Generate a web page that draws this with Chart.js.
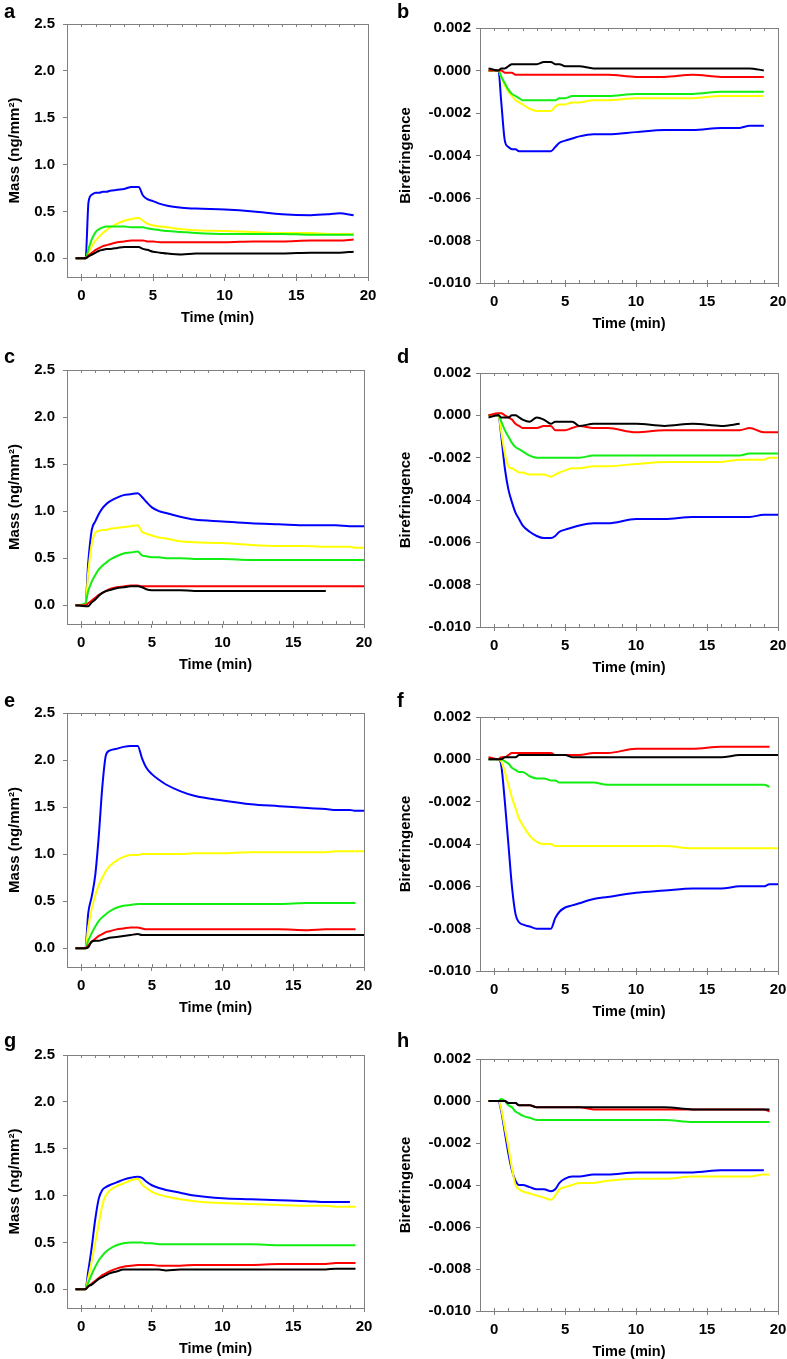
<!DOCTYPE html>
<html>
<head>
<meta charset="utf-8">
<script src="https://cdn.jsdelivr.net/npm/chart.js@4.4.1/dist/chart.umd.min.js"></script>
<style>
  html, body { margin: 0; padding: 0; background: #fff; }
  #page { position: relative; width: 787px; height: 1359px; overflow: hidden; }
  #page canvas { position: absolute; }
  .lbl { position: absolute; font: bold 20px "Liberation Sans", Arial, sans-serif; line-height: 20px; color: #000; }
</style>
</head>
<body>
<div id="page"></div>
<script>
/* data: shared time grid (min) and one array per curve */
const time = [-0.4, 0.3, 0.5, 0.75, 1, 1.25, 1.5, 1.75, 2, 2.5, 3, 3.5, 4, 4.3, 4.6, 5, 5.5, 6, 7, 8, 10, 12, 14, 16, 17.3, 18, 19, 19.4, 20];

const timeTicks = [0, 5, 10, 15, 20];
const massTicks = [0, 0.5, 1, 1.5, 2, 2.5];
const bireTicks = [0.002, 0, -0.002, -0.004, -0.006, -0.008, -0.01];

// a - mass
const aBlack  = [0, 0, 0.02, 0.04, 0.06, 0.08, 0.09, 0.10, 0.10, 0.11, 0.12, 0.12, 0.12, 0.10, 0.09, 0.07, 0.06, 0.05, 0.04, 0.05, 0.05, 0.05, 0.05, 0.06, 0.06, 0.06, 0.07, null, null];
const aRed    = [0, 0, 0.03, 0.06, 0.09, 0.11, 0.13, 0.14, 0.15, 0.17, 0.18, 0.19, 0.19, 0.19, 0.18, 0.18, 0.17, 0.17, 0.17, 0.17, 0.17, 0.18, 0.18, 0.19, 0.19, 0.19, 0.20, null, null];
const aGreen  = [0, 0, 0.10, 0.21, 0.28, 0.31, 0.33, 0.34, 0.34, 0.34, 0.34, 0.33, 0.33, 0.33, 0.32, 0.31, 0.30, 0.29, 0.28, 0.27, 0.26, 0.26, 0.26, 0.25, 0.25, 0.25, 0.25, null, null];
const aYellow = [0, 0, 0.06, 0.13, 0.19, 0.23, 0.27, 0.30, 0.33, 0.37, 0.40, 0.42, 0.43, 0.40, 0.37, 0.35, 0.34, 0.33, 0.31, 0.30, 0.29, 0.28, 0.27, 0.27, 0.26, 0.26, 0.26, null, null];
const aBlue   = [0, 0, 0.60, 0.68, 0.70, 0.70, 0.71, 0.71, 0.72, 0.73, 0.74, 0.76, 0.76, 0.67, 0.63, 0.61, 0.58, 0.56, 0.54, 0.53, 0.52, 0.50, 0.47, 0.46, 0.47, 0.48, 0.46, null, null];

// b - birefringence
const bBlack  = [0.0001, 0, 0.0001, 0.0001, 0.0002, 0.0003, 0.0003, 0.0003, 0.0003, 0.0003, 0.0003, 0.0004, 0.0004, 0.0003, 0.0003, 0.0002, 0.0002, 0.0002, 0.0001, 0.0001, 0.0001, 0.0001, 0.0001, 0.0001, 0.0001, 0.0001, 0.0000, null, null];
const bRed    = [0, 0, 0, -0.0001, -0.0001, -0.0001, -0.0002, -0.0002, -0.0002, -0.0002, -0.0002, -0.0002, -0.0002, -0.0002, -0.0002, -0.0002, -0.0002, -0.0002, -0.0002, -0.0002, -0.0003, -0.0003, -0.0002, -0.0003, -0.0003, -0.0003, -0.0003, null, null];
const bGreen  = [0, 0, -0.0003, -0.0006, -0.0009, -0.0011, -0.0012, -0.0013, -0.0014, -0.0014, -0.0014, -0.0014, -0.0014, -0.0014, -0.0013, -0.0013, -0.0012, -0.0012, -0.0012, -0.0012, -0.0011, -0.0011, -0.0011, -0.0010, -0.0010, -0.0010, -0.0010, null, null];
const bYellow = [0, 0, -0.0003, -0.0007, -0.0010, -0.0012, -0.0014, -0.0015, -0.0016, -0.0018, -0.0019, -0.0019, -0.0019, -0.0017, -0.0016, -0.0016, -0.0015, -0.0015, -0.0014, -0.0014, -0.0013, -0.0013, -0.0013, -0.0012, -0.0012, -0.0012, -0.0012, null, null];
const bBlue   = [0, 0, -0.0015, -0.0033, -0.0036, -0.0037, -0.0037, -0.0038, -0.0038, -0.0038, -0.0038, -0.0038, -0.0038, -0.0036, -0.0034, -0.0033, -0.0032, -0.0031, -0.0030, -0.0030, -0.0029, -0.0028, -0.0028, -0.0027, -0.0027, -0.0026, -0.0026, null, null];

// c - mass
const cBlack  = [0, -0.01, -0.01, 0.03, 0.06, 0.10, 0.13, 0.15, 0.16, 0.18, 0.19, 0.20, 0.20, 0.19, 0.17, 0.16, 0.16, 0.16, 0.16, 0.15, 0.15, 0.15, 0.15, 0.15, 0.15, null, null, null, null];
const cRed    = [0, 0, 0.02, 0.05, 0.08, 0.11, 0.13, 0.15, 0.17, 0.19, 0.20, 0.21, 0.21, 0.20, 0.20, 0.20, 0.20, 0.20, 0.20, 0.20, 0.20, 0.20, 0.20, 0.20, 0.20, 0.20, 0.20, 0.20, 0.20];
const cGreen  = [0, 0.02, 0.15, 0.25, 0.32, 0.38, 0.42, 0.45, 0.48, 0.52, 0.55, 0.56, 0.57, 0.53, 0.52, 0.51, 0.51, 0.50, 0.50, 0.49, 0.49, 0.48, 0.48, 0.48, 0.48, 0.48, 0.48, 0.48, 0.48];
const cYellow = [0, 0, 0.35, 0.65, 0.77, 0.79, 0.80, 0.80, 0.81, 0.82, 0.83, 0.84, 0.85, 0.78, 0.76, 0.74, 0.72, 0.71, 0.68, 0.67, 0.66, 0.64, 0.63, 0.63, 0.62, 0.62, 0.62, 0.61, 0.61];
const cBlue   = [0, 0, 0.45, 0.80, 0.89, 0.97, 1.03, 1.07, 1.10, 1.14, 1.17, 1.18, 1.19, 1.15, 1.10, 1.04, 1.00, 0.98, 0.94, 0.91, 0.89, 0.87, 0.86, 0.85, 0.85, 0.85, 0.84, 0.84, 0.84];

// d - birefringence
const dBlack  = [-0.0001, 0, -0.0001, -0.0001, -0.0001, 0.0000, 0.0000, -0.0001, -0.0002, -0.0003, -0.0001, -0.0002, -0.0004, -0.0003, -0.0003, -0.0003, -0.0003, -0.0005, -0.0004, -0.0004, -0.0004, -0.0005, -0.0004, -0.0005, -0.0004, null, null, null, null];
const dRed    = [0, 0.0001, 0.0001, 0.0000, -0.0001, -0.0002, -0.0004, -0.0005, -0.0006, -0.0006, -0.0006, -0.0005, -0.0005, -0.0007, -0.0007, -0.0007, -0.0006, -0.0005, -0.0006, -0.0006, -0.0008, -0.0007, -0.0007, -0.0007, -0.0007, -0.0006, -0.0008, -0.0008, -0.0008];
const dGreen  = [0, 0, -0.0003, -0.0007, -0.0010, -0.0013, -0.0015, -0.0016, -0.0017, -0.0019, -0.0020, -0.0020, -0.0020, -0.0020, -0.0020, -0.0020, -0.0020, -0.0020, -0.0019, -0.0019, -0.0019, -0.0019, -0.0019, -0.0019, -0.0019, -0.0018, -0.0018, -0.0018, -0.0018];
const dYellow = [0, 0, -0.0008, -0.0018, -0.0024, -0.0025, -0.0026, -0.0027, -0.0027, -0.0028, -0.0028, -0.0028, -0.0029, -0.0028, -0.0027, -0.0026, -0.0025, -0.0025, -0.0024, -0.0024, -0.0023, -0.0022, -0.0022, -0.0022, -0.0021, -0.0021, -0.0021, -0.0020, -0.0020];
const dBlue   = [0, 0, -0.0010, -0.0025, -0.0035, -0.0041, -0.0046, -0.0049, -0.0052, -0.0055, -0.0057, -0.0058, -0.0058, -0.0057, -0.0055, -0.0054, -0.0053, -0.0052, -0.0051, -0.0051, -0.0049, -0.0049, -0.0048, -0.0048, -0.0048, -0.0048, -0.0047, -0.0047, -0.0047];

// e - mass
const eBlack  = [0, 0, 0.01, 0.07, 0.08, 0.08, 0.09, 0.10, 0.11, 0.12, 0.13, 0.14, 0.15, 0.14, 0.14, 0.14, 0.14, 0.14, 0.14, 0.14, 0.14, 0.14, 0.14, 0.14, 0.14, 0.14, 0.14, 0.14, 0.14];
const eRed    = [0, 0, 0.03, 0.07, 0.10, 0.13, 0.15, 0.17, 0.18, 0.20, 0.21, 0.22, 0.22, 0.21, 0.20, 0.20, 0.20, 0.20, 0.20, 0.20, 0.20, 0.20, 0.20, 0.19, 0.20, 0.20, 0.20, 0.20, null];
const eGreen  = [0, 0, 0.08, 0.16, 0.23, 0.29, 0.33, 0.36, 0.39, 0.43, 0.45, 0.46, 0.47, 0.47, 0.47, 0.47, 0.47, 0.47, 0.47, 0.47, 0.47, 0.47, 0.47, 0.48, 0.48, 0.48, 0.48, 0.48, null];
const eYellow = [0, 0, 0.22, 0.42, 0.56, 0.67, 0.75, 0.82, 0.87, 0.93, 0.97, 0.99, 0.99, 1.00, 1.00, 1.00, 1.00, 1.00, 1.00, 1.01, 1.01, 1.02, 1.02, 1.02, 1.02, 1.03, 1.03, 1.03, 1.03];
const eBlue   = [0, 0, 0.37, 0.55, 0.78, 1.20, 1.72, 2.05, 2.10, 2.12, 2.14, 2.15, 2.15, 2.02, 1.92, 1.85, 1.79, 1.74, 1.67, 1.62, 1.57, 1.53, 1.51, 1.49, 1.48, 1.47, 1.47, 1.46, 1.46];

// f - birefringence
const fBlack  = [0, 0, 0, 0.0001, 0.0001, 0.0001, 0.0001, 0.0002, 0.0002, 0.0002, 0.0002, 0.0002, 0.0002, 0.0002, 0.0002, 0.0002, 0.0001, 0.0001, 0.0001, 0.0001, 0.0001, 0.0001, 0.0001, 0.0001, 0.0002, 0.0002, 0.0002, 0.0002, 0.0002];
const fRed    = [0.0001, 0, 0.0001, 0.0001, 0.0002, 0.0003, 0.0003, 0.0003, 0.0003, 0.0003, 0.0003, 0.0003, 0.0003, 0.0002, 0.0002, 0.0002, 0.0002, 0.0002, 0.0003, 0.0003, 0.0005, 0.0005, 0.0005, 0.0006, 0.0006, 0.0006, 0.0006, 0.0006, null];
const fGreen  = [0, 0, 0, -0.0001, -0.0002, -0.0004, -0.0005, -0.0006, -0.0006, -0.0008, -0.0009, -0.0009, -0.0010, -0.0010, -0.0011, -0.0011, -0.0011, -0.0011, -0.0011, -0.0012, -0.0012, -0.0012, -0.0012, -0.0012, -0.0012, -0.0012, -0.0012, -0.0013, null];
const fYellow = [0, 0, -0.0001, -0.0006, -0.0012, -0.0018, -0.0023, -0.0028, -0.0031, -0.0036, -0.0039, -0.0040, -0.0040, -0.0041, -0.0041, -0.0041, -0.0041, -0.0041, -0.0041, -0.0041, -0.0041, -0.0041, -0.0042, -0.0042, -0.0042, -0.0042, -0.0042, -0.0042, -0.0042];
const fBlue   = [0, 0, -0.0003, -0.0020, -0.0040, -0.0060, -0.0073, -0.0077, -0.0078, -0.0079, -0.0080, -0.0080, -0.0080, -0.0075, -0.0072, -0.0070, -0.0069, -0.0068, -0.0066, -0.0065, -0.0063, -0.0062, -0.0061, -0.0061, -0.0060, -0.0060, -0.0060, -0.0059, -0.0059];

// g - mass
const gBlack  = [0, 0, 0.03, 0.05, 0.08, 0.11, 0.13, 0.15, 0.17, 0.19, 0.21, 0.21, 0.21, 0.21, 0.21, 0.21, 0.21, 0.20, 0.21, 0.21, 0.21, 0.21, 0.21, 0.21, 0.21, 0.22, 0.22, 0.22, null];
const gRed    = [0, 0, 0.03, 0.06, 0.09, 0.12, 0.15, 0.17, 0.19, 0.22, 0.24, 0.25, 0.26, 0.26, 0.26, 0.26, 0.25, 0.25, 0.25, 0.26, 0.26, 0.26, 0.27, 0.27, 0.27, 0.28, 0.28, 0.28, null];
const gGreen  = [0, 0, 0.07, 0.16, 0.24, 0.31, 0.36, 0.40, 0.43, 0.47, 0.49, 0.50, 0.50, 0.50, 0.49, 0.49, 0.48, 0.48, 0.48, 0.48, 0.48, 0.48, 0.47, 0.47, 0.47, 0.47, 0.47, 0.47, null];
const gYellow = [0, 0, 0.12, 0.30, 0.50, 0.70, 0.90, 1.00, 1.05, 1.10, 1.13, 1.16, 1.18, 1.12, 1.08, 1.04, 1.01, 0.99, 0.96, 0.94, 0.92, 0.91, 0.90, 0.89, 0.89, 0.88, 0.88, 0.88, null];
const gBlue   = [0, 0, 0.19, 0.45, 0.75, 0.97, 1.06, 1.09, 1.11, 1.14, 1.17, 1.19, 1.20, 1.19, 1.15, 1.11, 1.08, 1.06, 1.03, 1.00, 0.97, 0.96, 0.95, 0.94, 0.93, 0.93, 0.93, null, null];

// h - birefringence
const hBlack  = [0, 0, 0, 0, -0.0001, -0.0001, -0.0001, -0.0002, -0.0002, -0.0002, -0.0003, -0.0003, -0.0003, -0.0003, -0.0003, -0.0003, -0.0003, -0.0003, -0.0003, -0.0003, -0.0003, -0.0003, -0.0004, -0.0004, -0.0004, -0.0004, -0.0004, -0.0004, null];
const hRed    = [0, 0, 0, 0, -0.0001, -0.0001, -0.0001, -0.0002, -0.0002, -0.0002, -0.0003, -0.0003, -0.0003, -0.0003, -0.0003, -0.0003, -0.0003, -0.0003, -0.0004, -0.0004, -0.0004, -0.0004, -0.0004, -0.0004, -0.0004, -0.0004, -0.0004, -0.0005, null];
const hGreen  = [0, 0, 0.0001, 0.0000, -0.0002, -0.0003, -0.0005, -0.0006, -0.0007, -0.0008, -0.0009, -0.0009, -0.0009, -0.0009, -0.0009, -0.0009, -0.0009, -0.0009, -0.0009, -0.0009, -0.0009, -0.0009, -0.0010, -0.0010, -0.0010, -0.0010, -0.0010, -0.0010, null];
const hYellow = [0, 0, -0.0004, -0.0013, -0.0022, -0.0032, -0.0040, -0.0042, -0.0043, -0.0044, -0.0045, -0.0046, -0.0047, -0.0045, -0.0042, -0.0041, -0.0040, -0.0039, -0.0039, -0.0038, -0.0037, -0.0037, -0.0036, -0.0036, -0.0036, -0.0036, -0.0035, -0.0035, null];
const hBlue   = [0, 0, -0.0005, -0.0015, -0.0025, -0.0033, -0.0038, -0.0040, -0.0040, -0.0041, -0.0042, -0.0042, -0.0043, -0.0042, -0.0039, -0.0037, -0.0036, -0.0036, -0.0035, -0.0035, -0.0034, -0.0034, -0.0034, -0.0033, -0.0033, -0.0033, -0.0033, null, null];

/* styling + layout */
const lineColors = ['#000000', '#ff0000', '#11ee11', '#ffff00', '#0000ff'];
const axisGray = '#808080';

Chart.defaults.font.family = '"Liberation Sans", Arial, sans-serif';
Chart.defaults.font.weight = 'bold';
Chart.defaults.color = '#000';

// box = canvas placement, frame = plot rectangle (page px)
const panels = [
  { label: 'a', kind: 'mass', lines: [aBlack, aRed, aGreen, aYellow, aBlue], box: [0, 0],      frame: [67, 24, 367, 277] },
  { label: 'b', kind: 'bire', lines: [bBlack, bRed, bGreen, bYellow, bBlue], box: [393, 0],    frame: [480, 28, 777, 283] },
  { label: 'c', kind: 'mass', lines: [cBlack, cRed, cGreen, cYellow, cBlue], box: [0, 340],    frame: [67, 370, 363, 624] },
  { label: 'd', kind: 'bire', lines: [dBlack, dRed, dGreen, dYellow, dBlue], box: [393, 340],  frame: [480, 373, 777, 627] },
  { label: 'e', kind: 'mass', lines: [eBlack, eRed, eGreen, eYellow, eBlue], box: [0, 680],    frame: [67, 713, 363, 967] },
  { label: 'f', kind: 'bire', lines: [fBlack, fRed, fGreen, fYellow, fBlue], box: [393, 680],  frame: [480, 717, 777, 971] },
  { label: 'g', kind: 'mass', lines: [gBlack, gRed, gGreen, gYellow, gBlue], box: [0, 1019],   frame: [67, 1055, 363, 1308] },
  { label: 'h', kind: 'bire', lines: [hBlack, hRed, hGreen, hYellow, hBlue], box: [393, 1019], frame: [480, 1059, 777, 1311] }
];
const labelBaseline = [18, 18, 363, 363, 707, 707, 1047, 1047];

const canvasW = 410, canvasH = 352;
const titleGap = 41;  // px from frame bottom to centre of "Time (min)"

// full box + inward minor ticks at every minute
const framePlugin = {
  id: 'frame',
  afterDraw(chart) {
    const { ctx, chartArea: a, scales: { x } } = chart;
    ctx.save();
    ctx.strokeStyle = axisGray;
    ctx.lineWidth = 1;
    ctx.beginPath();
    ctx.moveTo(a.left, a.top + 0.5); ctx.lineTo(a.right + 0.5, a.top + 0.5);
    ctx.moveTo(a.right + 0.5, a.top); ctx.lineTo(a.right + 0.5, a.bottom);
    for (let m = Math.ceil(x.min); m < x.max; m++) {
      const px = Math.round(x.getPixelForValue(m)) + 0.5;
      ctx.moveTo(px, a.top); ctx.lineTo(px, a.top + 3);
      ctx.moveTo(px, a.bottom); ctx.lineTo(px, a.bottom - 3);
    }
    ctx.stroke();
    ctx.restore();
  }
};

const page = document.getElementById('page');

panels.forEach(function(p, idx) {
  const cv = document.createElement('canvas');
  cv.width = canvasW; cv.height = canvasH;
  cv.style.left = p.box[0] + 'px';
  cv.style.top = p.box[1] + 'px';
  page.appendChild(cv);

  const lbl = document.createElement('div');
  lbl.className = 'lbl';
  lbl.textContent = p.label;
  lbl.style.left = (p.box[0] + 4) + 'px';
  lbl.style.top = (labelBaseline[idx] - 17) + 'px';
  page.appendChild(lbl);

  const fl = p.frame[0] - p.box[0], ft = p.frame[1] - p.box[1];
  const fr = p.frame[2] - p.box[0], fb = p.frame[3] - p.box[1];
  const xAxisH = titleGap + 8.7;
  const isMass = p.kind === 'mass';
  const yTicks = isMass ? massTicks : bireTicks;

  new Chart(cv, {
    type: 'line',
    data: {
      datasets: p.lines.map(function(vals, i) {
        return {
          data: time.map(function(t, k) { return { x: t, y: vals[k] }; }).filter(function(d) { return d.y !== null; }),
          borderColor: lineColors[i],
          borderWidth: 2,
          pointRadius: 0,
          cubicInterpolationMode: 'monotone',
          fill: false
        };
      })
    },
    options: {
      responsive: false,
      animation: false,
      devicePixelRatio: 1,
      layout: { padding: { top: ft, right: canvasW - fr - 1, bottom: canvasH - fb - xAxisH, left: 0 } },
      plugins: { legend: { display: false }, tooltip: { enabled: false } },
      scales: {
        x: {
          type: 'linear', min: -1, max: 20,
          afterBuildTicks: function(s) { s.ticks = timeTicks.map(function(v) { return { value: v }; }); },
          afterFit: function(s) { s.height = xAxisH; },
          grid: { drawOnChartArea: false, color: axisGray, tickLength: 4 },
          border: { color: axisGray },
          ticks: { padding: 6, font: { size: 15 }, maxRotation: 0, callback: function(v) { return String(v); } },
          title: { display: true, text: 'Time (min)', padding: 0, font: { size: 14.5 } }
        },
        y: {
          type: 'linear', min: isMass ? -0.2 : -0.01, max: isMass ? 2.5 : 0.002,
          afterBuildTicks: function(s) { s.ticks = yTicks.map(function(v) { return { value: v }; }); },
          afterFit: function(s) { s.width = fl; },
          grid: { drawOnChartArea: false, color: axisGray, tickLength: 4 },
          border: { color: axisGray },
          ticks: { padding: isMass ? 8 : 5, font: { size: 15 }, callback: function(v) { return isMass ? v.toFixed(1) : v.toFixed(3); } },
          title: { display: true, text: isMass ? 'Mass (ng/mm²)' : 'Birefringence', padding: { top: isMass ? 6 : 4, bottom: 0 }, font: { size: 15 } }
        }
      }
    },
    plugins: [framePlugin]
  });
});
</script>
</body>
</html>
